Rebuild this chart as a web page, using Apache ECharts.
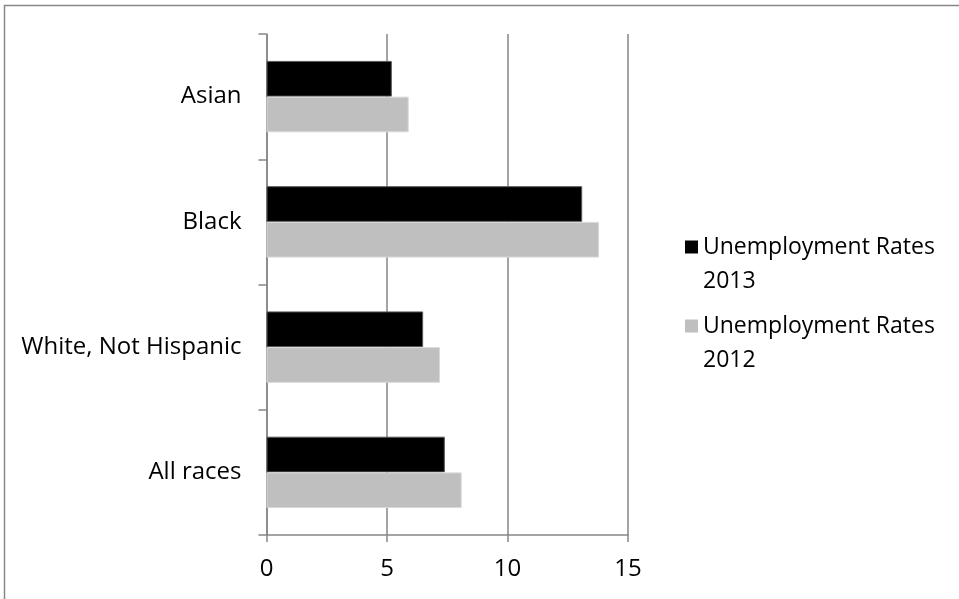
<!DOCTYPE html>
<html>
<head>
<meta charset="utf-8">
<script src="https://cdn.jsdelivr.net/npm/echarts@6/dist/echarts.min.js"></script>
<style>
  html, body { margin: 0; padding: 0; background: #ffffff; }
  #chart { width: 959px; height: 599px; }
</style>
</head>
<body>
<div id="chart"></div>
<script>
// Groups, listed bottom to top along the category axis
const categories = ['All races', 'White, Not Hispanic', 'Black', 'Asian'];
// Unemployment rates (%) per group
const rates2013 = [7.4, 6.5, 13.1, 5.2];
const rates2012 = [8.1, 7.2, 13.8, 5.9];
const seriesNames = ['Unemployment Rates 2013', 'Unemployment Rates 2012'];
const xTicks = { min: 0, max: 15, interval: 5 };

const FONT = 'Open Sans';
const LINE_H = 34;
const axisGray = '#868686';

// Legend marker: a 13px square sitting level with the first text line,
// inside a box two lines tall (the empty move-to points set the box extent).
const markerIcon = 'path://M0,0L0,0M0,10.5H13V23.5H0ZM13,68L13,68';

const chart = echarts.init(document.getElementById('chart'), null, { renderer: 'canvas' });
chart.setOption({
  animation: false,
  backgroundColor: '#ffffff',
  grid: { left: 266.5, right: 331, top: 34, bottom: 64, containLabel: false },
  legend: {
    data: seriesNames,
    orient: 'vertical',
    left: 685,
    top: 247 - LINE_H / 2,
    padding: 0,
    icon: markerIcon,
    itemWidth: 13,
    itemHeight: 2 * LINE_H,
    itemGap: 11,
    selectedMode: false,
    itemStyle: { borderWidth: 0 },
    formatter: n => n.replace(/ (\d{4})$/, '\n$1'),
    textStyle: {
      fontFamily: FONT,
      fontSize: 23,
      color: '#000',
      lineHeight: LINE_H
    }
  },
  xAxis: {
    type: 'value',
    min: xTicks.min,
    max: xTicks.max,
    interval: xTicks.interval,
    axisLine: { show: true, lineStyle: { color: axisGray, width: 1.5 } },
    axisTick: { show: true, length: 7, lineStyle: { color: axisGray, width: 1.5 } },
    splitLine: { show: true, lineStyle: { color: axisGray, width: 1.5 } },
    axisLabel: { fontFamily: FONT, fontSize: 24, color: '#000', margin: 22 }
  },
  yAxis: {
    type: 'category',
    data: categories,
    axisLine: { show: true, lineStyle: { color: axisGray, width: 1.5 } },
    axisTick: { show: true, length: 8, lineStyle: { color: axisGray, width: 1.5 } },
    axisLabel: { fontFamily: FONT, fontSize: 24, color: '#000', margin: 25, padding: [4, 0, 0, 0] }
  },
  series: [
    {
      name: seriesNames[0],
      type: 'bar',
      data: rates2013,
      barGap: '0%',
      barCategoryGap: '43%',
      itemStyle: { color: '#000000', borderColor: '#595959', borderWidth: 1 }
    },
    {
      name: seriesNames[1],
      type: 'bar',
      data: rates2012,
      barGap: '0%',
      barCategoryGap: '43%',
      itemStyle: { color: '#bfbfbf', borderColor: '#d9d9d9', borderWidth: 1 }
    }
  ],
  graphic: [
    // chart-area frame: top and left edges
    {
      type: 'polyline',
      shape: { points: [[4.5, 599], [4.5, 5.5], [959, 5.5]] },
      style: { stroke: '#878787', lineWidth: 1.5, fill: null },
      silent: true
    }
  ]
});
</script>
</body>
</html>
